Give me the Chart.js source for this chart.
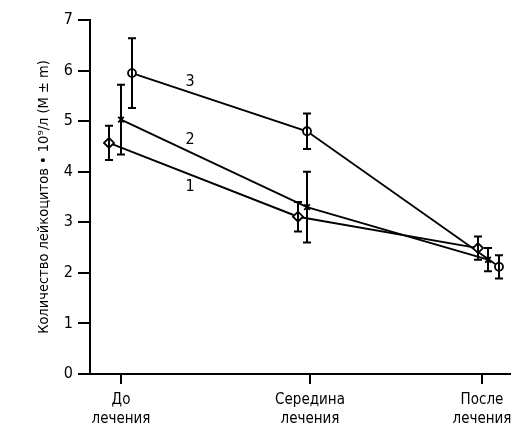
<!DOCTYPE html>
<html>
<head>
<meta charset="utf-8">
<script src="https://cdn.jsdelivr.net/npm/chart.js@4/dist/chart.umd.min.js"></script>
<style>
  html, body { margin: 0; padding: 0; background: #fff; }
  #wrap { width: 520px; height: 434px; }
</style>
</head>
<body>
<div id="wrap"><canvas id="chart"></canvas></div>
<script>
// data
const categories = [['До', 'лечения'], ['Середина', 'лечения'], ['После', 'лечения']];
const categoryPos = [3.1, 22.0, 39.2];

const series1X = [1.9, 20.8, 38.8];
const series1 = [4.57, 3.11, 2.49];
const series1Err = [0.34, 0.29, 0.23];

const series2X = [3.1, 21.7, 39.8];
const series2 = [5.03, 3.30, 2.26];
const series2Err = [0.69, 0.70, 0.23];

const series3X = [4.2, 21.7, 40.9];
const series3 = [5.95, 4.80, 2.12];
const series3Err = [0.69, 0.35, 0.23];

const seriesNames = ['1', '2', '3'];
const yTicks = [0, 1, 2, 3, 4, 5, 6, 7];
const yTitle = 'Количество лейкоцитов • 10⁹/л (M ± m)';

const FONT = "'DejaVu Sans Condensed', 'Liberation Sans', sans-serif";

function toPoints(xs, ys, errs) {
    return ys.map((y, i) => ({ x: xs[i], y: y, err: errs[i] }));
}

// whiskers with caps
const errorBars = {
    id: 'errorBars',
    afterDatasetsDraw(chart) {
        const ctx = chart.ctx;
        const xs = chart.scales.x, ys = chart.scales.y;
        ctx.save();
        ctx.strokeStyle = '#000';
        ctx.lineWidth = 2;
        chart.data.datasets.forEach(ds => {
            ds.data.forEach(p => {
                const px = xs.getPixelForValue(p.x);
                const top = ys.getPixelForValue(p.y + p.err);
                const bot = ys.getPixelForValue(p.y - p.err);
                ctx.beginPath();
                ctx.moveTo(px, top); ctx.lineTo(px, bot);
                ctx.moveTo(px - 4, top); ctx.lineTo(px + 4, top);
                ctx.moveTo(px - 4, bot); ctx.lineTo(px + 4, bot);
                ctx.stroke();
            });
        });
        ctx.restore();
    }
};

// numbers written next to the lines
const lineLabels = {
    id: 'lineLabels',
    afterDatasetsDraw(chart) {
        const ctx = chart.ctx;
        const xs = chart.scales.x, ys = chart.scales.y;
        const spots = [[10, 3.70], [10, 4.63], [10, 5.78]];
        ctx.save();
        ctx.fillStyle = '#000';
        ctx.font = '16px ' + FONT;
        ctx.textAlign = 'center';
        ctx.textBaseline = 'middle';
        seriesNames.forEach((n, i) => {
            ctx.fillText(n, xs.getPixelForValue(spots[i][0]), ys.getPixelForValue(spots[i][1]));
        });
        ctx.restore();
    }
};

const common = {
    borderColor: '#000',
    borderWidth: 1.9,
    pointBorderColor: '#000',
    pointBackgroundColor: '#fff',
    pointBorderWidth: 1.8,
    fill: false,
    tension: 0
};

new Chart(document.getElementById('chart'), {
    type: 'scatter',
    data: {
        datasets: [
            Object.assign({ label: seriesNames[0], data: toPoints(series1X, series1, series1Err),
                showLine: true, pointStyle: 'rectRot', pointRadius: 5 }, common),
            Object.assign({ label: seriesNames[1], data: toPoints(series2X, series2, series2Err),
                showLine: true, pointStyle: 'crossRot', pointRadius: 4 }, common),
            Object.assign({ label: seriesNames[2], data: toPoints(series3X, series3, series3Err),
                showLine: true, pointStyle: 'circle', pointRadius: 4 }, common)
        ]
    },
    options: {
        responsive: true,
        maintainAspectRatio: false,
        animation: false,
        layout: { padding: { top: 20, right: 10, left: 0, bottom: 0 } },
        plugins: {
            legend: { display: false },
            tooltip: { enabled: false }
        },
        scales: {
            x: {
                type: 'linear',
                min: 0,
                max: 42,
                afterBuildTicks: s => { s.ticks = categoryPos.map(v => ({ value: v })); },
                afterFit: s => { s.height = 60; },
                border: { color: '#000', width: 2 },
                grid: { drawOnChartArea: false, color: '#000', lineWidth: 2, tickLength: 10 },
                ticks: {
                    color: '#000',
                    font: { family: FONT, size: 15, lineHeight: 1.25 },
                    padding: 7,
                    maxRotation: 0,
                    autoSkip: false,
                    callback: (v, i) => categories[i]
                }
            },
            y: {
                min: 0,
                max: 7,
                afterBuildTicks: s => { s.ticks = yTicks.map(v => ({ value: v })); },
                afterFit: s => { s.width = 90; },
                border: { color: '#000', width: 2 },
                grid: { drawOnChartArea: false, color: '#000', lineWidth: 2, tickLength: 12 },
                ticks: {
                    color: '#000',
                    font: { family: FONT, size: 16 },
                    padding: 5
                },
                title: {
                    display: true,
                    text: yTitle,
                    color: '#000',
                    font: { family: FONT, size: 14.5 },
                    padding: { top: 36, bottom: 0 }
                }
            }
        }
    },
    plugins: [errorBars, lineLabels]
});
</script>
</body>
</html>
